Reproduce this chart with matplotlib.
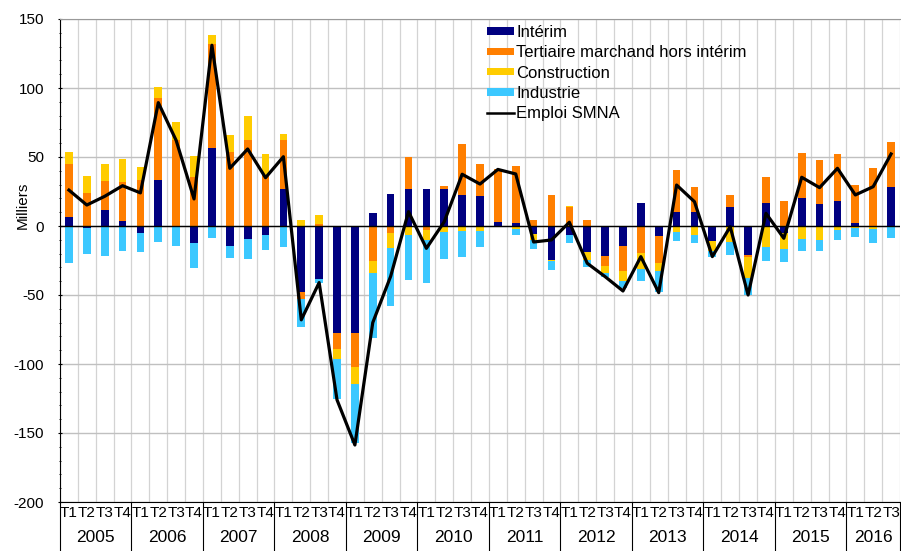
import numpy as np
import matplotlib
matplotlib.use("Agg")
import matplotlib.pyplot as plt
from matplotlib.patches import Patch
from matplotlib.lines import Line2D
import matplotlib.transforms as mtransforms

plt.rcParams['font.family'] = ['Liberation Sans', 'DejaVu Sans']
plt.rcParams['axes.unicode_minus'] = False

years = ['2005', '2006', '2007', '2008', '2009', '2010', '2011',
         '2012', '2013', '2014', '2015', '2016']
quarters = ['T1', 'T2', 'T3', 'T4']
n_quarters = 47  # 2005T1 .. 2016T3

# contributions, milliers
interim = [6.5, -1.2, 11.8, 3.9, -5.3, 33.3, 0, -12.6, 56.8, -14.5, -9.7, -6.5,
           26.8, -47.6, -38.4, -77.8, -77.8, 9.5, 23.5, 26.8, 26.8, 26.8, 22.5, 21.7,
           3.1, 2, -5.8, -24.6, -6.5, -18.6, -21.7, -14.5, 16.9, -7.2, 10.1, 10.1,
           -10.6, 13.5, -21, 16.9, -5.3, 20.3, 16, 18.1, 1.9, 0, 28.5]
tertiaire = [38.5, 23.7, 20.8, 28, 33.3, 59.2, 62, 35.7, 75.3, 53.4, 62.3, 37,
             35.3, -5.5, 1.5, -11.6, -24.2, -25.4, -5.3, 23.2, -2.9, 2.2, 36.9, 23.3,
             37.9, 41.7, 4.3, 22.5, 13.5, 4.3, -7.3, -18.1, -19.3, -19.8, 30.5, 17.9,
             0, 9, -1.7, 18.8, 17.9, 32.4, 31.6, 33.9, 27.8, 42.3, 32.6]
construction = [8.5, 12.5, 12.4, 16.7, 9.5, 8, 13.4, 15.3, 6.5, 12.3, 17.6, 15,
                4.3, 4.3, 6.5, -7.2, -12.5, -8.9, -10.9, -6.5, -7.1, -4.1, -3.6, -3.6,
                0, -2.4, -4.2, -0.8, 1.2, -6, -5.3, -7, -12.1, -5.4, -4.1, -6.5,
                -7.3, -11.4, -15.2, -15.5, -11.6, -9.7, -10.1, -2.9, -1.7, -2.4, 0]
industrie = [-27, -19, -21.5, -18.1, -13.3, -11.8, -14.3, -18, -8.5, -8.7, -14.5, -10.7,
             -15.5, -19.9, -3.1, -29, -43, -47.1, -41.8, -32.5, -31.5, -20.1, -18.6, -11.4,
             0, -4.1, -6.7, -6.5, -5.6, -5.4, -2.4, -5.5, -8.2, -15.2, -6.5, -6.1,
             -4.3, -9.9, -12.1, -9.9, -8.9, -8.2, -8, -7.2, -6.5, -9.7, -8.9]
emploi_smna = [26, 15.2, 21.5, 29.2, 24, 89.4, 62, 19.6, 131, 41.8, 55.8, 35,
               50.2, -68, -41, -126, -158.7, -70, -36.5, 10.4, -16.2, 3.1, 37.5, 30.4,
               41, 37.7, -11.6, -10.1, 2.7, -27, -36.7, -47.1, -22.2, -48.3, 29.7, 17.6,
               -22.2, -0.5, -50, 9.2, -8.9, 35.3, 27.8, 41.8, 22.5, 28.5, 52.2]

series = [
    ('Intérim', interim, '#000080'),
    ('Tertiaire marchand hors intérim', tertiaire, '#FF7F00'),
    ('Construction', construction, '#FFCC00'),
    ('Industrie', industrie, '#3CC8FF'),
]

x = np.arange(n_quarters)

fig = plt.figure(figsize=(9.01, 5.51), dpi=100)
ax = fig.add_axes([60 / 901, 1 - 502 / 551, 840 / 901, 483 / 551])

# stacked bars, positives up and negatives down from zero
pos_base = np.zeros(n_quarters)
neg_base = np.zeros(n_quarters)
for name, vals, col in series:
    v = np.array(vals, dtype=float)
    bottom = np.where(v >= 0, pos_base, neg_base)
    ax.bar(x, v, width=0.43, bottom=bottom, color=col, linewidth=0, zorder=3)
    pos_base = pos_base + np.clip(v, 0, None)
    neg_base = neg_base + np.clip(v, None, 0)

ax.plot(x, emploi_smna, color='black', linewidth=2.3, zorder=5)
ax.axhline(0, color='black', linewidth=1.0, zorder=4)

ax.set_xlim(-0.5, n_quarters - 0.5)
ax.set_ylim(-200, 150)
ax.set_yticks(np.arange(-200, 151, 50))
ax.set_yticks(np.arange(-200, 151, 10), minor=True)
ax.tick_params(axis='y', which='major', labelsize=11, length=3, direction='inout', pad=10)
ax.tick_params(axis='y', which='minor', length=2, direction='inout')
ax.grid(axis='y', which='major', color='#c0c0c0', linewidth=1.0, zorder=0)

ax.set_xticks([])
ax.set_xticks(np.arange(-0.5, n_quarters, 1), minor=True)
ax.tick_params(axis='x', which='minor', length=0)
ax.grid(axis='x', which='minor', color='#d3d3d3', linewidth=0.9, zorder=0)

ax.spines['top'].set_color('#999999')
ax.spines['right'].set_visible(False)
ax.spines['left'].set_color('black')
ax.spines['bottom'].set_color('black')

ax.set_ylabel('Milliers', fontsize=11)
ax.yaxis.set_label_coords(-0.036, 0.615)

# two-level x labels
trans = mtransforms.blended_transform_factory(ax.transData, ax.transAxes)
for i in range(n_quarters):
    ax.text(x[i], -0.022, quarters[i % 4], transform=trans, ha='center', va='center',
            fontsize=11)
for k, yr in enumerate(years):
    start = 4 * k - 0.5
    end = min(4 * k + 3.5, n_quarters - 0.5)
    ax.text((start + end) / 2, -0.073, yr, transform=trans, ha='center', va='center',
            fontsize=12.5)
    ax.plot([start, start], [0, -0.105], transform=trans, color='black',
            linewidth=0.8, clip_on=False)
ax.plot([n_quarters - 0.5] * 2, [0, -0.105], transform=trans, color='black',
        linewidth=0.8, clip_on=False)

handles = [Patch(facecolor=c, edgecolor='none') for _, _, c in series]
handles.append(Line2D([0], [0], color='black', linewidth=1.8))
labels = [s[0] for s in series] + ['Emploi SMNA']
ax.legend(handles, labels, loc='upper left', bbox_to_anchor=(487 / 901, 1 - 25 / 551),
          bbox_transform=fig.transFigure, frameon=False, fontsize=12,
          handlelength=1.6, handleheight=0.3, handletextpad=0.15, labelspacing=0.32,
          borderpad=0, borderaxespad=0)

fig.savefig('out.png', dpi=100)
